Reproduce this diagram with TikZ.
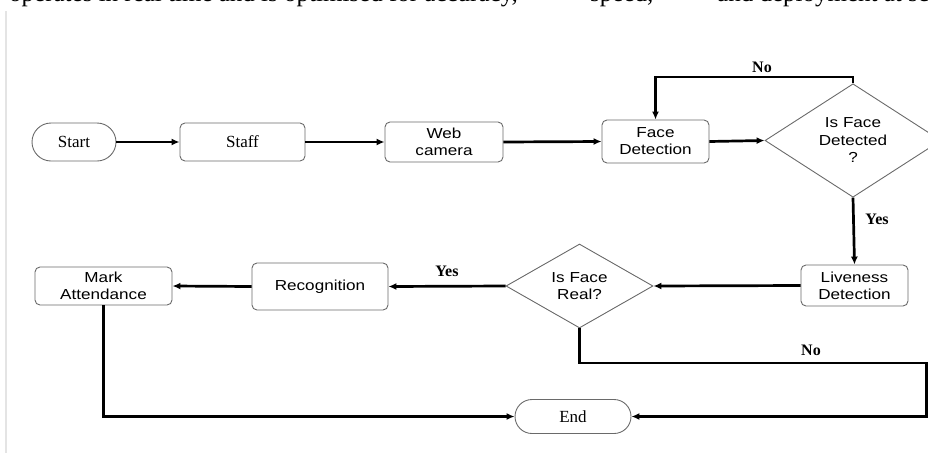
\documentclass[tikz,border=0pt]{standalone}
\usepackage{fontspec}
\setmainfont{Liberation Serif}
\newfontfamily\boxsans[FakeStretch=1.18]{Liberation Sans}
\usetikzlibrary{arrows.meta,shapes.geometric}
\definecolor{boxgray}{HTML}{6A6A6A}
\definecolor{edgegray}{HTML}{E4E4E4}
\begin{document}
\begin{tikzpicture}[x=1pt,y=-1pt,
 box/.style={draw=boxgray,line width=0.9pt,rounded corners=5pt,inner sep=0pt,align=center,
   font=\boxsans\fontsize{14.5}{17}\selectfont},
 term/.style={draw=boxgray,line width=0.9pt,inner sep=0pt,align=center,font=\fontsize{17}{20}\selectfont},
 decision/.style={diamond,draw=boxgray,line width=0.9pt,inner sep=0pt,align=center,
   font=\boxsans\fontsize{14.5}{17.5}\selectfont},
 conn/.style={line width=2.7pt,-{Latex[length=8pt,width=7pt]}},
 lbl/.style={font=\bfseries\fontsize{16}{18}\selectfont,inner sep=0pt},
 pagetext/.style={font=\fontsize{25}{30}\selectfont,inner sep=0pt,anchor=base west}
]
\path[use as bounding box] (0,0) rectangle (928,453);
\clip (0,0) rectangle (928,453);

% page fragments
\node[pagetext] (t1) at (9,1.5) {operates in real time and is optimised for accuracy,};
\node[pagetext] (t2) at (590,1.5) {speed,};
\node[pagetext] (t3) at (717,1.5) {and deployment at scale as};
\coordinate (bordtop) at (6,11);
\coordinate (bordbot) at (6,453);
\draw[edgegray,line width=1.2pt] (bordtop) -- (bordbot);

% nodes
\node[term,rounded corners=19pt,minimum width=84pt,minimum height=38pt] (start) at (74,142) {Start};
\node[term,rounded corners=5pt,minimum width=125pt,minimum height=38pt] (staff) at (242.5,142) {Staff};
\node[box,minimum width=118pt,minimum height=40pt] (web) at (444,142) {Web\\camera};
\node[box,minimum width=107pt,minimum height=43pt] (facedet) at (655.5,141.5) {Face\\Detection};
\node[decision,minimum width=176pt,minimum height=95pt] (isdet) at (853,140.5) {Is Face\\Detected\\?};
\node[box,minimum width=107pt,minimum height=41pt] (live) at (854.5,285.5) {Liveness\\Detection};
\node[decision,minimum width=147pt,minimum height=84pt] (isreal) at (579.5,286) {Is Face\\Real?};
\node[box,minimum width=136pt,minimum height=47pt] (recog) at (320,286.5) {Recognition};
\node[box,minimum width=137pt,minimum height=38pt] (mark) at (103.5,286) {Mark\\Attendance};
\node[term,rounded corners=17pt,minimum width=116pt,minimum height=34pt] (endn) at (573,416.5) {End};

\coordinate (nolooptop) at (0,77);
\coordinate (nobottom) at (0,363);
\coordinate (rightx) at (926.5,0);

% connectors
\draw[conn] (start) -- (staff);
\draw[conn] (staff) -- (web);
\draw[conn] (web.east) -- (facedet.west);
\draw[conn] (facedet.east) -- (isdet.west);
\draw[conn] (isdet.north) -- (isdet.north |- nolooptop) -| (facedet.north);
\draw[conn] (isdet.south) -- (live.north);
\draw[conn] (live.west) -- (isreal.east);
\draw[conn] (isreal.west) -- (recog.east);
\draw[conn] (recog.west) -- (mark.east);
\draw[conn] (mark.south) |- (endn.west);
\draw[conn] (isreal.south) -- (isreal.south |- nobottom) -- (rightx |- nobottom) -- (rightx |- endn.east) -- (endn.east);

% labels
\node[lbl] (lno1) at (762,67) {No};
\node[lbl] (lyes1) at (877,219) {Yes};
\node[lbl] (lyes2) at (447,271) {Yes};
\node[lbl] (lno2) at (811,350) {No};
\end{tikzpicture}
\end{document}
